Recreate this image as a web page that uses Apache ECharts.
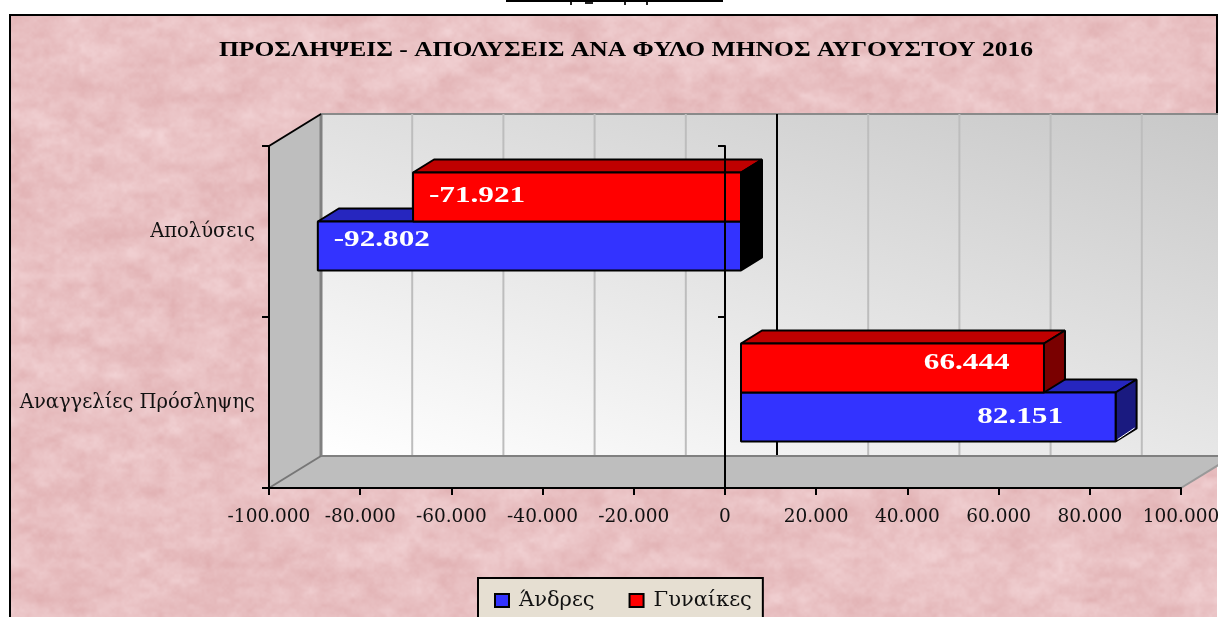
<!DOCTYPE html>
<html>
<head>
<meta charset="utf-8">
<style>html,body{margin:0;padding:0;background:#fff;overflow:hidden}#c{width:1218px;height:617px}</style>
<script src="https://cdn.jsdelivr.net/npm/echarts@6/dist/echarts.min.js"></script>
</head>
<body>
<div id="c"></div>
<script>
// ---- data ----
const titleText = 'ΠΡΟΣΛΗΨΕΙΣ - ΑΠΟΛΥΣΕΙΣ ΑΝΑ ΦΥΛΟ ΜΗΝΟΣ ΑΥΓΟΥΣΤΟΥ 2016';
const categories = ['Αναγγελίες Πρόσληψης', 'Απολύσεις'];
const men = [82151, -92802];
const women = [66444, -71921];
const xTicks = [-100000,-80000,-60000,-40000,-20000,0,20000,40000,60000,80000,100000];

// ---- style constants ----
const serif = '"DejaVu Serif"';
const timesFont = '"Liberation Serif"';
const DEPTH = [52, -32];      // full depth of the 3D box
const BAR_OFF = [16, -10];    // bar front plane inside the box
const BAR_DEPTH = [21, -13];
const BAR_RATIO = 0.2865;
const styles = {
  'Άνδρες':   {front:'#3333ff', top:'#2626bf', side:'#1a1a80', nudge:[[0,-1],[0,-7]]},
  'Γυναίκες': {front:'#ff0000', top:'#bf0000', side:'#7a0000', nudge:[[0,-6],[0,-2]]}
};
const fmt = v => {
  const s = String(Math.abs(v)).replace(/\B(?=(\d{3})+$)/g, '.');
  return v < 0 ? '-' + s : s;
};

// deterministic marble-like paper texture
function makeTexture(w, h) {
  const cv = document.createElement('canvas');
  cv.width = w; cv.height = h;
  const ctx = cv.getContext('2d');
  const img = ctx.createImageData(w, h);
  const hash = (x, y) => { const s = Math.sin(x * 127.1 + y * 311.7) * 43758.5453; return s - Math.floor(s); };
  const sm = t => t * t * (3 - 2 * t);
  const noise = (x, y) => {
    const xi = Math.floor(x), yi = Math.floor(y), fx = sm(x - xi), fy = sm(y - yi);
    const a = hash(xi, yi), b = hash(xi + 1, yi), c = hash(xi, yi + 1), d = hash(xi + 1, yi + 1);
    return (a + (b - a) * fx) * (1 - fy) + (c + (d - c) * fx) * fy;
  };
  for (let y = 0; y < h; y++) for (let x = 0; x < w; x++) {
    const n = 0.36 * noise(x / 34, y / 17) + 0.32 * noise(x / 15, y / 9 + 9) + 0.22 * noise(x / 6, y / 5 + 31) + 0.1 * noise(x / 2.5, y / 2.5 + 71);
    const t = (n - 0.5) * 2.3;
    const i = (y * w + x) * 4;
    img.data[i] = 233 + t * 9;
    img.data[i + 1] = 193 + t * 18;
    img.data[i + 2] = 195 + t * 18;
    img.data[i + 3] = 255;
  }
  ctx.putImageData(img, 0, 0);
  return cv;
}

// walls, floor and back-wall gridlines, all from the axis scale
function renderBox(params, api) {
  const g = params.coordSys;
  const L = g.x, R = g.x + g.width, T = g.y, B = g.y + g.height;
  const dx = DEPTH[0], dy = DEPTH[1];
  const kids = [];
  kids.push({type:'polygon', shape:{points:[[L+dx,T+dy],[R+dx,T+dy],[R+dx,B+dy],[L+dx,B+dy]]},
    style:{fill:{type:'linear',global:true,x:L+dx,y:B+dy,x2:L+dx+168,y2:B+dy-560,
      colorStops:[{offset:0,color:'#ffffff'},{offset:1,color:'#c8c8c8'}]}, stroke:'#8a8a8a', lineWidth:2}});
  xTicks.forEach(t => {
    const x = api.coord([t, 0])[0] + dx;
    kids.push({type:'line', shape:{x1:x,y1:T+dy,x2:x,y2:B+dy},
      style:{stroke: t === 0 ? '#000' : '#bdbdbd', lineWidth:2}});
  });
  kids.push({type:'polygon', shape:{points:[[L,T],[L+dx,T+dy],[L+dx,B+dy],[L,B]]},
    style:{fill:'#bebebe', stroke:'none'}});
  kids.push({type:'polygon', shape:{points:[[L,B],[L+dx,B+dy],[R+dx,B+dy],[R,B]]},
    style:{fill:'#bebebe', stroke:'none'}});
  kids.push({type:'line', shape:{x1:L+dx,y1:T+dy,x2:L+dx,y2:B+dy}, style:{stroke:'#808080',lineWidth:3}});
  kids.push({type:'line', shape:{x1:L+dx,y1:B+dy,x2:R+dx,y2:B+dy}, style:{stroke:'#808080',lineWidth:2}});
  kids.push({type:'line', shape:{x1:L,y1:B,x2:L+dx,y2:B+dy}, style:{stroke:'#777',lineWidth:2}});
  kids.push({type:'line', shape:{x1:R,y1:B,x2:R+dx,y2:B+dy}, style:{stroke:'#999',lineWidth:2}});
  kids.push({type:'line', shape:{x1:L,y1:T,x2:L+dx,y2:T+dy}, style:{stroke:'#000',lineWidth:2}});
  return {type:'group', children:kids};
}

// 3D bar for a series
function barRenderer(name) {
  const st = styles[name];
  const isMen = name === 'Άνδρες';
  return function (params, api) {
    const v = api.value(0), cat = api.value(1);
    const base = api.coord([0, cat]), end = api.coord([v, cat]);
    const h = api.size([0, 1])[1] * BAR_RATIO;
    const x0 = base[0] + BAR_OFF[0], x1 = end[0] + BAR_OFF[0];
    const cy = base[1] + BAR_OFF[1];
    const yT = isMen ? cy : cy - h, yB = isMen ? cy + h : cy;
    const l = Math.min(x0, x1), r = Math.max(x0, x1);
    const dx = BAR_DEPTH[0], dy = BAR_DEPTH[1];
    const line = {stroke:'#000', lineWidth:2, lineJoin:'bevel'};
    const nudge = st.nudge[cat];
    const labelX = v > 0 ? x0 + (x1 - x0) * 0.745 : l + 64;
    const kids = [
      {type:'polygon', shape:{points:[[l,yT],[l+dx,yT+dy],[r+dx,yT+dy],[r,yT]]}, style:Object.assign({fill:st.top}, line)},
      {type:'polygon', shape:{points:[[r,yT],[r+dx,yT+dy],[r+dx,yB+dy],[r,yB]]}, style:Object.assign({fill:v < 0 ? '#000' : st.side}, line)},
      {type:'rect', shape:{x:l,y:yT,width:r-l,height:yB-yT}, style:Object.assign({fill:st.front}, line)},
      {type:'text', x:labelX+nudge[0], y:(yT+yB)/2+nudge[1]+1, scaleX:1.3, z2:20,
        style:{text:fmt(v), fill:'#fff', font:'bold 24px '+timesFont, textAlign:'center', textVerticalAlign:'middle'}}
    ];
    if (isMen && v > 0) {
      kids.splice(2, 0, {type:'line', shape:{x1:r+2,y1:yB-2,x2:r+dx-2,y2:yB+dy-0.5}, style:{stroke:'#fff',lineWidth:1}});
    }
    return {type:'group', children:kids};
  };
}

const catAxisBase = {type:'category', data:categories,
  axisTick:{show:true, length:7, alignWithLabel:false, lineStyle:{color:'#000',width:2}},
  axisLine:{show:true, onZero:false, lineStyle:{color:'#000',width:2}},
  splitLine:{show:false}, z:10};

const chart = echarts.init(document.getElementById('c'), null, {renderer:'canvas', width:1218, height:617});
chart.setOption({
  animation:false,
  backgroundColor:'#ffffff',
  grid:{left:269, top:146, width:912, height:342, outerBoundsMode:'none', containLabel:false},
  xAxis:{type:'value', min:-100000, max:100000, interval:20000, z:10,
    axisLine:{show:true, onZero:false, lineStyle:{color:'#000',width:2}},
    axisTick:{show:true, length:7, lineStyle:{color:'#000',width:2}},
    splitLine:{show:false},
    axisLabel:{formatter:fmt, margin:20, hideOverlap:false, fontFamily:serif, fontSize:18.5, color:'#111'}},
  yAxis:[
    Object.assign({}, catAxisBase, {position:'left',
      axisLabel:{margin:14, fontFamily:serif, fontSize:19.5, color:'#111'}}),
    Object.assign({}, catAxisBase, {position:'left',
      axisLine:{show:true, onZero:true, lineStyle:{color:'#000',width:2}},
      axisLabel:{show:false}})
  ],
  legend:{left:478, top:578, orient:'horizontal', selectedMode:false,
    backgroundColor:'#e6dfd2', borderColor:'#000', borderWidth:2,
    padding:[12,11,30,16], itemWidth:14, itemHeight:13, itemGap:34,
    textStyle:{fontFamily:serif, fontSize:21, color:'#111', padding:[0,0,0,5]},
    data:[
      {name:'Άνδρες', icon:'rect', itemStyle:{color:styles['Άνδρες'].front, borderColor:'#000', borderWidth:2}},
      {name:'Γυναίκες', icon:'rect', itemStyle:{color:styles['Γυναίκες'].front, borderColor:'#000', borderWidth:2}}
    ]},
  graphic:{elements:[
    {type:'image', silent:true, z:-10, style:{image:makeTexture(1207,603), x:10, y:15, width:1207, height:603}},
    {type:'polyline', silent:true, z:-9, shape:{points:[[10,617],[10,15],[1217,15],[1217,115]]}, style:{stroke:'#000', lineWidth:2, fill:'none'}},
    {type:'text', silent:true, z:5, x:626, y:50.5, scaleX:1.278,
      style:{text:titleText, fill:'#000', font:'bold 20px '+timesFont, textAlign:'center', textVerticalAlign:'middle'}},
    {type:'rect', silent:true, z:-9, shape:{x:506,y:0,width:217,height:2}, style:{fill:'#000'}},
    {type:'rect', silent:true, z:-9, shape:{x:570,y:2,width:2,height:3}, style:{fill:'#222'}},
    {type:'rect', silent:true, z:-9, shape:{x:585,y:2,width:8,height:2}, style:{fill:'#222'}},
    {type:'rect', silent:true, z:-9, shape:{x:624,y:2,width:2,height:3}, style:{fill:'#222'}},
    {type:'rect', silent:true, z:-9, shape:{x:646,y:2,width:2,height:3}, style:{fill:'#222'}}
  ]},
  series:[
    {name:'box', type:'custom', coordinateSystem:'cartesian2d', z:1, silent:true, renderItem:renderBox,
      encode:{x:0,y:1}, data:[[0,0]]},
    {name:'Άνδρες', type:'custom', coordinateSystem:'cartesian2d', z:3, renderItem:barRenderer('Άνδρες'),
      encode:{x:0,y:1}, itemStyle:{color:styles['Άνδρες'].front},
      data:men.map((v,i)=>[v,i])},
    {name:'Γυναίκες', type:'custom', coordinateSystem:'cartesian2d', z:4, renderItem:barRenderer('Γυναίκες'),
      encode:{x:0,y:1}, itemStyle:{color:styles['Γυναίκες'].front},
      data:women.map((v,i)=>[v,i])}
  ]
});
</script>
</body>
</html>
